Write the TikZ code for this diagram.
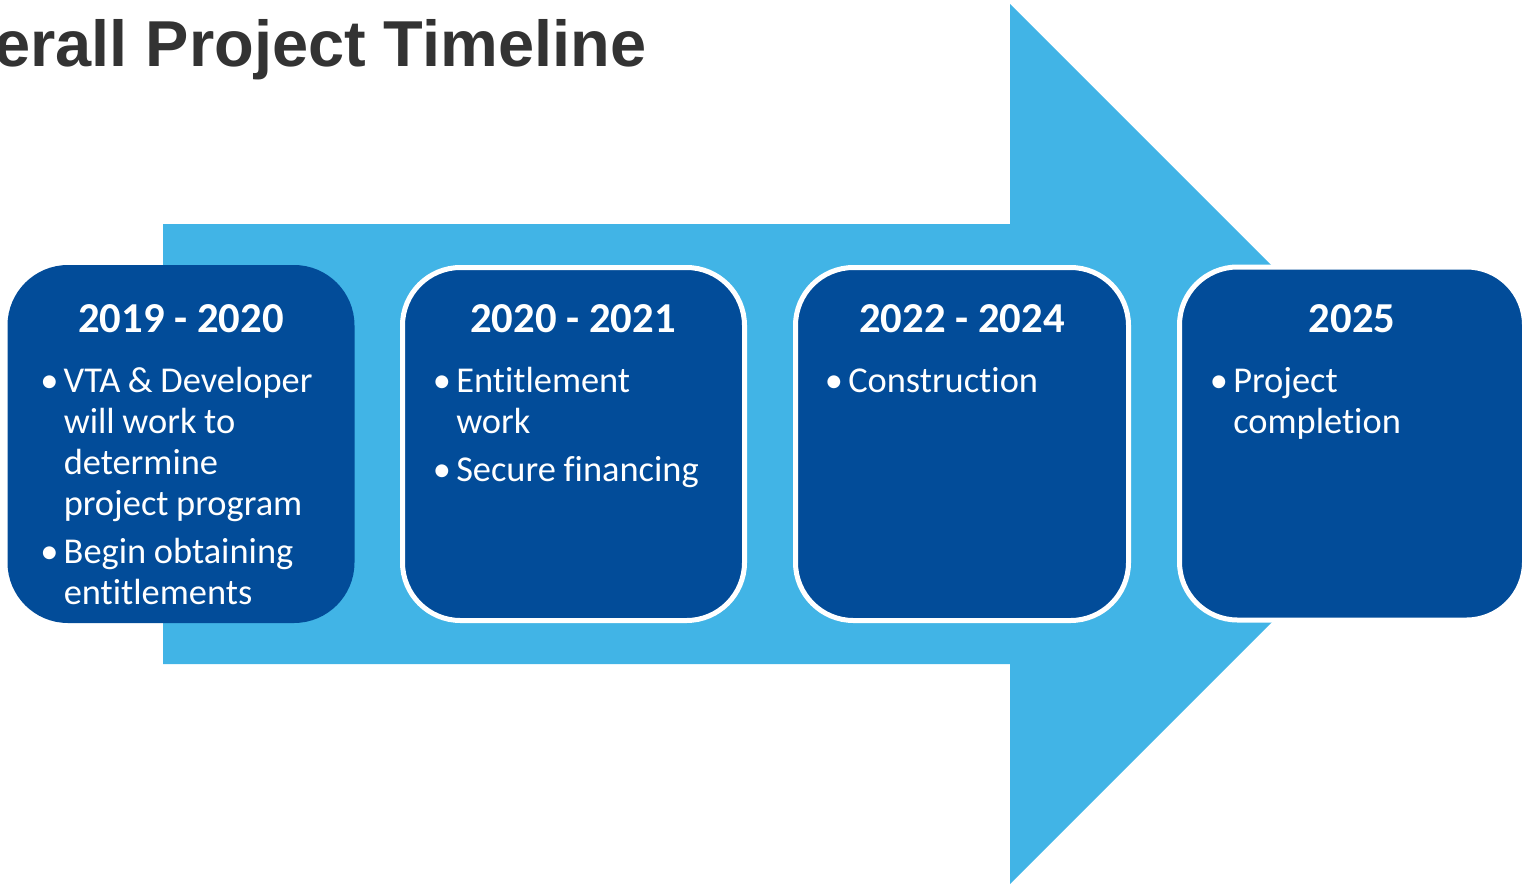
\documentclass[tikz,border=0pt]{standalone}
\usepackage{fontspec}
\setmainfont{Carlito}[Ligatures=CommonOff]
\newfontfamily\headfont{Liberation Sans}
\usepackage{tikz}
\definecolor{tlsky}{RGB}{65,180,230}
\definecolor{tldark}{RGB}{2,76,153}
\definecolor{tlgrey}{RGB}{51,51,51}
\newcommand{\tlitem}{\par\noindent\spaceskip=0.21em\relax\strut\llap{•\hspace{4pt}}}
\newcommand{\tlgap}{\par\vspace{5.25pt}}

\begin{document}
\begin{tikzpicture}[x=0.75pt,y=0.75pt,yscale=-1,xscale=1,
  tlbox/.style={rounded corners=43.5pt,fill=tldark,draw=white,line width=3.75pt,minimum height=264.75pt,inner sep=0pt},
  tlyear/.style={anchor=base,inner sep=0pt,text=white,font=\bfseries\fontsize{32}{38}\selectfont},
  tlbody/.style={anchor=north west,inner sep=0pt,text=white,text width=262pt,align=left,font=\fontsize{27.3}{30.75}\selectfont}]
\useasboundingbox (0,0) rectangle (1524,885);

%Shape: Arrow [id:tlarrow]
\fill[tlsky] (163,224) -- (1010,224) -- (1010,4) -- (1450,444) -- (1010,884) -- (1010,664) -- (163,664) -- cycle ;

% Text Node
\node[anchor=base west,inner sep=0pt,text=tlgrey,font=\headfont\bfseries\fontsize{48.7}{58}\selectfont] (title) at (-6,66) {erall Project Timeline};

%Shape: Rounded Rectangle [id:box1]
\node[tlbox,draw=tldark,minimum width=256.5pt] (box1) at (181,444) {};
%Shape: Rounded Rectangle [id:box2]
\node[tlbox,minimum width=256.5pt] (box2) at (573.5,444) {};
%Shape: Rounded Rectangle [id:box3]
\node[tlbox,minimum width=249.75pt] (box3) at (962,444) {};
%Shape: Rounded Rectangle [id:box4]
\node[tlbox,minimum width=258.75pt] (box4) at (1352,443.5) {};

% Text Node
\node[tlyear] (year1) at (181,332) {2019 - 2020};
% Text Node
\node[tlyear] (year2) at (573,332) {2020 - 2021};
% Text Node
\node[tlyear] (year3) at (962,332) {2022 - 2024};
% Text Node
\node[tlyear] (year4) at (1352,332) {2025};

% Text Node
\node[tlbody] (body1) at (63.5,351.5) {\tlitem VTA \& Developer\\will work to\\determine\\project program\tlgap\tlitem Begin obtaining\\entitlements};
% Text Node
\node[tlbody] (body2) at (456,351.5) {\tlitem Entitlement\\work\tlgap\tlitem Secure financing};
% Text Node
\node[tlbody] (body3) at (848,351.5) {\tlitem Construction};
% Text Node
\node[tlbody] (body4) at (1233,351.5) {\tlitem Project\\completion};

\end{tikzpicture}
\end{document}
